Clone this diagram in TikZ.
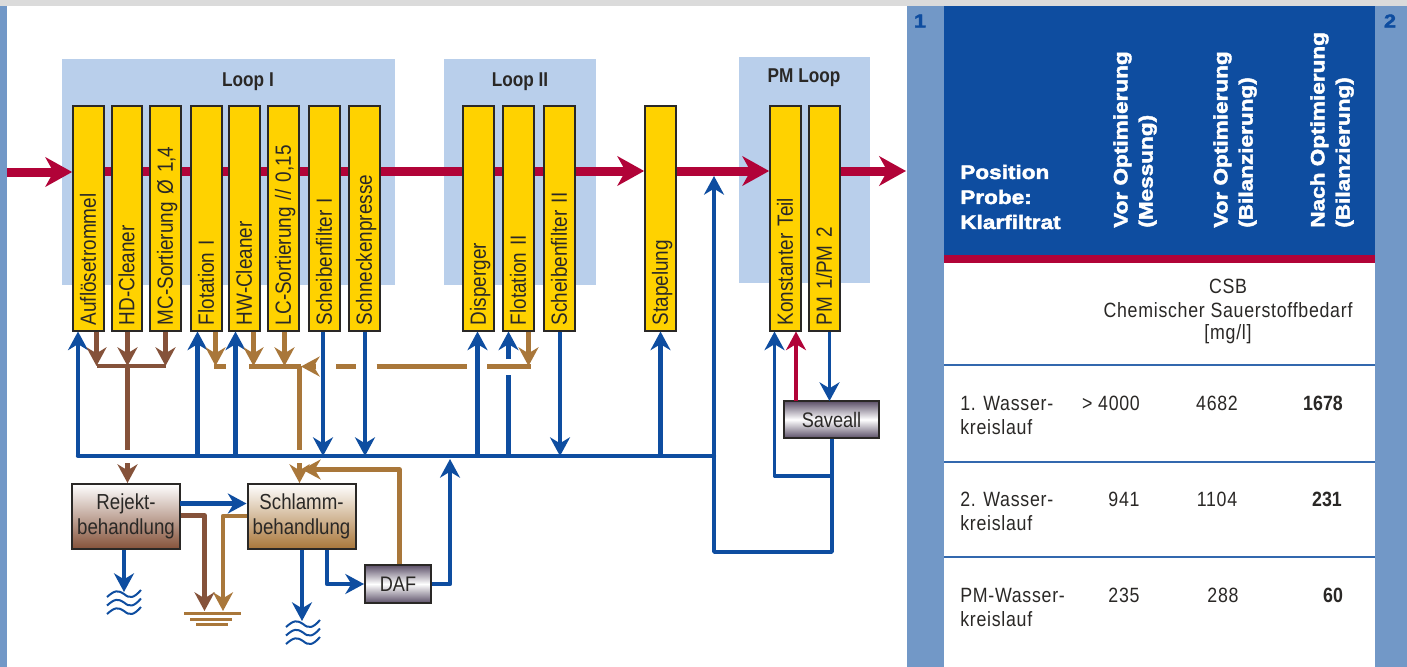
\documentclass[tikz,border=0pt]{standalone}
\usepackage{fontspec}
\setmainfont{Liberation Sans}[FakeStretch=0.86]
\newfontfamily\hdfont{Liberation Sans Bold}[FakeStretch=1.16,FakeBold=2.2]
\newfontfamily\cellfont{Liberation Sans}[FakeStretch=0.86,LetterSpace=3.5]
\usetikzlibrary{arrows.meta,positioning}
\pgfdeclarelayer{panels}
\pgfdeclarelayer{flow}
\pgfsetlayers{panels,flow,main}
\definecolor{cBlue}{HTML}{0E4DA0}
\definecolor{cSide}{HTML}{7298C7}
\definecolor{cLoop}{HTML}{B9CFEB}
\definecolor{cRed}{HTML}{B10338}
\definecolor{cBrown}{HTML}{85523A}
\definecolor{cTan}{HTML}{A9773A}
\definecolor{cYellow}{HTML}{FFD200}
\definecolor{cInk}{HTML}{2A2826}
\definecolor{cSteel}{HTML}{5C5068}
\tikzset{
  x=0.75pt,y=-0.75pt,
  bhead/.tip={Stealth[length=14pt,width=15pt,inset=4.5pt]},
  rhead/.tip={Stealth[length=20pt,width=22pt,inset=6pt]},
  flowline/.style={line join=round,line width=3.2pt},
  bluearrow/.style={flowline,draw=cBlue,-bhead},
  blueline/.style={flowline,draw=cBlue},
  brownarrow/.style={flowline,draw=cBrown,-bhead},
  brownline/.style={flowline,draw=cBrown},
  tanarrow/.style={flowline,draw=cTan,-bhead},
  tanline/.style={flowline,draw=cTan},
  redline/.style={line width=6.75pt,draw=cRed},
  redarrow/.style={redline,-rhead},
  looptitle/.style={font=\fontsize{15}{18}\selectfont\bfseries,text=cInk,inner sep=0pt},
  ybox/.style={rotate=90,draw=cInk,line width=1.5pt,fill=cYellow,text=cInk,
    minimum height=23pt,text width=160pt,inner xsep=4pt,inner ysep=0pt,align=left,
    text height=12pt,text depth=1pt,
    font=\fontsize{16.5}{18}\selectfont},
  treat/.style={draw=cInk,line width=1.5pt,align=center,inner sep=0pt,text=cInk,
    minimum width=81pt,minimum height=48.75pt,font=\fontsize{16.3}{18.5}\selectfont},
  steel/.style={draw=cInk,line width=1.5pt,align=center,inner sep=0pt,text=cInk,
    top color=cSteel,bottom color=cSteel,middle color=white,font=\fontsize{15.8}{18.5}\selectfont},
  cell/.style={font=\cellfont\fontsize{15.5}{18}\selectfont,text=cInk,inner sep=0pt},
  cellb/.style={font=\fontsize{15.5}{18}\selectfont\bfseries,text=cInk,inner sep=0pt},
  rowlab/.style={cell,anchor=west,align=left},
  hdr/.style={font=\hdfont\fontsize{14.6}{18.9}\selectfont,text=white,inner sep=0pt,align=left},
  hdrot/.style={hdr,rotate=90,anchor=south west},
  sidenum/.style={font=\hdfont\fontsize{14}{16}\selectfont,text=cBlue,inner sep=0pt},
  rowrule/.style={draw=cBlue!85,line width=0.8pt},
  wave/.style={draw=cBlue,line width=1.5pt},
  gnd/.style={draw=cTan,line width=2.25pt},
}
\newcommand{\wavesat}[2]{%
  \foreach \dy in {0,8.5,17}{%
    \draw[wave] (#1-17,#2+6+\dy) .. controls (#1-9,#2-1+\dy) and (#1-6,#2-1+\dy) .. (#1,#2+3+\dy)
      .. controls (#1+6,#2+8+\dy) and (#1+10,#2+7+\dy) .. (#1+17,#2-1+\dy);}}
\begin{document}
\begin{tikzpicture}
\useasboundingbox (0,0) rectangle (1407,667);
\begin{pgfonlayer}{panels}
  \fill[white] (0,0) rectangle (1407,667);
  \fill[black!14] (0,0) rectangle (1407,6);
  \fill[cSide] (0,6) rectangle (7,667);
  \fill[cSide] (907,6) rectangle (944,667);
  \fill[cSide] (1375,6) rectangle (1407,667);
  \fill[cBlue] (944,6) rectangle (1375,255);
  \fill[cRed] (944,255) rectangle (1375,263);
  \fill[cLoop] (62,59) rectangle (395,285);
  \fill[cLoop] (444,59) rectangle (596,285);
  \fill[cLoop] (739,57) rectangle (870,283);
\end{pgfonlayer}

% loop titles
\node[looptitle] (t1) at (248,82) {Loop I};
\node[looptitle] (t2) at (520,82) {Loop II};
\node[looptitle] (t3) at (804,78) {PM Loop};

% process boxes
\node[ybox] (a1) at (88.5,218.5) {Auflösetrommel};
\node[ybox] (a2) at (127,218.5) {HD-Cleaner};
\node[ybox] (a3) at (165.5,218.5) {MC-Sortierung Ø 1,4};
\node[ybox] (a4) at (206.5,218.5) {Flotation I};
\node[ybox] (a5) at (244.5,218.5) {HW-Cleaner};
\node[ybox] (a6) at (283.5,218.5) {LC-Sortierung // 0,15};
\node[ybox] (a7) at (324.5,218.5) {Scheibenfilter I};
\node[ybox] (a8) at (364.5,218.5) {Schneckenpresse};
\node[ybox] (b1) at (478.5,218.5) {Disperger};
\node[ybox] (b2) at (518.5,218.5) {Flotation II};
\node[ybox] (b3) at (559.5,218.5) {Scheibenfilter II};
\node[ybox] (c1) at (660.5,218.5) {Stapelung};
\node[ybox] (d1) at (785.5,218.5) {Konstanter Teil};
\node[ybox] (d2) at (824.5,218.5) {PM 1/PM 2};

% treatment boxes
\node[treat,top color=white,bottom color=cBrown] (rej) at (126,516.5) {Rejekt-\\behandlung};
\node[treat,top color=white,bottom color=cTan] (sch) at (301.5,516.5) {Schlamm-\\behandlung};
\node[steel,minimum width=49.5pt,minimum height=28.5pt] (daf) at (398,584) {DAF};
\node[steel,minimum width=71.25pt,minimum height=27.75pt] (sav) at (831.5,419.5) {Saveall};

% main stock line
\coordinate (in) at (7,172);
\coordinate (out) at (906,171);
\begin{pgfonlayer}{flow}
  \draw[redarrow] (in) -- (in -| a1.north);
  \draw[redarrow] (a1.north |- out) -- (out -| c1.north);
  \draw[redarrow] (c1.south |- out) -- (out -| d1.north);
  \draw[redarrow] (d2.south |- out) -- (out);
\end{pgfonlayer}

% water bus
\coordinate (busL) at (78,456);
\coordinate (busR) at (714,456);
\draw[blueline,line cap=round] (busL) -- (busR);

% blue returns to / from bus
\coordinate (u1) at (78,456);
\coordinate (u2) at (197.5,456);
\coordinate (u3) at (235.5,456);
\coordinate (u4) at (477.5,456);
\coordinate (u6) at (660.5,456);
\coordinate (v1) at (323,456);
\coordinate (v2) at (365,456);
\coordinate (v3) at (560,456);
\draw[bluearrow] (u1) -- (u1 |- a1.west);
\draw[bluearrow] (u2) -- (u2 |- a4.west);
\draw[bluearrow] (u3) -- (u3 |- a5.west);
\draw[bluearrow] (u4) -- (u4 |- b1.west);
\draw[bluearrow] (u6) -- (u6 |- c1.west);
\draw[bluearrow,line width=2.8pt] (v1 |- a7.west) -- (v1);
\draw[bluearrow,line width=2.8pt] (v2 |- a8.west) -- (v2);
\draw[bluearrow,line width=2.8pt] (v3 |- b3.west) -- (v3);
\coordinate (u5) at (508.5,456);
\coordinate (u5a) at (508.5,375);
\coordinate (u5b) at (508.5,359);
\draw[blueline] (u5) -- (u5a);
\draw[bluearrow] (u5b) -- (u5b |- b2.west);

% riser to the main line and PM circuit
\coordinate (rise) at (714,176);
\coordinate (pmfoot) at (714,552);
\coordinate (pmcorner) at (832,552);
\coordinate (kbranch) at (774.5,476);
\coordinate (kjoin) at (832,476);
\draw[bluearrow] (busR) -- (rise);
\draw[blueline,line width=2.6pt] (sav.south -| pmcorner) -- (pmcorner) -- (pmfoot) -- (busR);
\draw[bluearrow,line width=2.6pt] (kjoin) -- (kbranch) -- (kbranch |- d1.west);
\coordinate (rs) at (796,401);
\draw[line width=3.6pt,draw=cRed,-bhead] (rs) -- (rs |- d1.west);
\coordinate (ps) at (829.5,401);
\draw[bluearrow,line width=2.6pt] (ps |- d2.west) -- (ps);

% brown reject collector
\coordinate (br1) at (96.5,366);
\coordinate (br2) at (127.5,366);
\coordinate (br3) at (165.5,366);
\coordinate (brA) at (127.5,450);
\coordinate (brB) at (127.5,463);
\draw[brownarrow] (br1 |- a1.west) -- (br1);
\draw[brownarrow] (br2 |- a2.west) -- (br2);
\draw[brownarrow] (br3 |- a3.west) -- (br3);
\draw[brownline] (br1) -- (br3);
\draw[brownline] (br2) -- (brA);
\draw[brownarrow] (brB) -- (brB |- rej.north);

% tan sludge collector
\coordinate (tn1) at (215.5,366);
\coordinate (tn2) at (253.5,366);
\coordinate (tn3) at (284.5,366);
\coordinate (tn4) at (528.5,366);
\coordinate (tnV) at (299.5,366);
\coordinate (tnA) at (299.5,450);
\coordinate (tnB) at (299.5,463);
\draw[tanarrow] (tn1 |- a4.west) -- (tn1);
\draw[tanarrow] (tn2 |- a5.west) -- (tn2);
\draw[tanarrow] (tn3 |- a6.west) -- (tn3);
\draw[tanarrow] (tn4 |- b2.west) -- (tn4);
\coordinate (s1a) at (214,366.5); \coordinate (s1b) at (226,366.5);
\coordinate (s2a) at (249,366.5); \coordinate (s2b) at (301,366.5);
\coordinate (s3a) at (316,366.5);
\coordinate (s4a) at (336,366.5); \coordinate (s4b) at (356,366.5);
\coordinate (s5a) at (376.5,366.5); \coordinate (s5b) at (467,366.5);
\coordinate (s6a) at (487,366.5); \coordinate (s6b) at (531,366.5);
\draw[tanline] (s1a) -- (s1b);
\draw[tanline] (s2a) -- (s2b);
\draw[tanarrow] (s3a) -- (s2b);
\draw[tanline] (s4a) -- (s4b);
\draw[tanline] (s5a) -- (s5b);
\draw[tanline] (s6a) -- (s6b);
\draw[tanline] (tnV) -- (tnA);
\draw[tanarrow] (tnB) -- (tnB |- sch.north);
\coordinate (dr) at (399.5,469.5);
\coordinate (dt) at (302,469.5);
\draw[tanarrow] (dr |- daf.north) -- (dr) -- (dt);

% treatment outflows
\coordinate (rb) at (180,503.5);
\draw[bluearrow] (rb) -- (rb -| sch.west);
\coordinate (rg) at (204.5,515.5);
\coordinate (rgg) at (204.5,611);
\draw[brownarrow] (rg -| rej.east) -- (rg) -- (rgg);
\coordinate (sg) at (223,516);
\coordinate (sgg) at (223,611);
\draw[tanarrow] (sg -| sch.west) -- (sg) -- (sgg);
\coordinate (rw) at (124,592);
\draw[bluearrow] (rw |- rej.south) -- (rw);
\coordinate (sw) at (302,621);
\draw[bluearrow] (sw |- sch.south) -- (sw);
\coordinate (sd) at (327,584);
\draw[bluearrow] (sd |- sch.south) -- (sd) -- (daf.west);
\coordinate (dbc) at (450,584);
\coordinate (dbt) at (450,459);
\draw[bluearrow] (daf.east) -- (dbc) -- (dbt);

% drain and ground symbols
\wavesat{124}{591}
\wavesat{303}{621}
\draw[gnd] (184,613.5) -- (241,613.5);
\draw[gnd] (190,619.5) -- (232,619.5);
\draw[gnd] (196,624.5) -- (228,624.5);

% table
\node[sidenum] (n1) at (920,21) {1};
\node[sidenum] (n2) at (1390,21) {2};
\node[hdr,anchor=west] (h0a) at (960,172) {Position};
\node[hdr,anchor=west] (h0b) at (960,197) {Probe:};
\node[hdr,anchor=west] (h0c) at (960,222) {Klarfiltrat};
\node[hdrot] (h1) at (1157,228) {Vor Optimierung\\(Messung)};
\node[hdrot] (h2) at (1257,228) {Vor Optimierung\\(Bilanzierung)};
\node[hdrot] (h3) at (1354,228) {Nach Optimierung\\(Bilanzierung)};
\node[cell] (csb1) at (1228,286) {CSB};
\node[cell] (csb2) at (1228,310) {Chemischer Sauerstoffbedarf};
\node[cell] (csb3) at (1228,334) {[mg/l]};
\draw[rowrule] (944,365) -- (1375,365);
\draw[rowrule] (944,462) -- (1375,462);
\draw[rowrule] (944,557) -- (1375,557);
\node[rowlab] (r1a) at (960,403) {1. Wasser-};
\node[rowlab] (r1b) at (960,427) {kreislauf};
\node[cell] (r1c) at (1111,403) {> 4000};
\node[cell] (r1d) at (1217,403) {4682};
\node[cellb] (r1e) at (1323,403) {1678};
\node[rowlab] (r2a) at (960,499) {2. Wasser-};
\node[rowlab] (r2b) at (960,523) {kreislauf};
\node[cell] (r2c) at (1124,499) {941};
\node[cell] (r2d) at (1217,499) {1104};
\node[cellb] (r2e) at (1327,499) {231};
\node[rowlab] (r3a) at (960,595) {PM-Wasser-};
\node[rowlab] (r3b) at (960,619) {kreislauf};
\node[cell] (r3c) at (1124,595) {235};
\node[cell] (r3d) at (1223,595) {288};
\node[cellb] (r3e) at (1333,595) {60};
\end{tikzpicture}
\end{document}
